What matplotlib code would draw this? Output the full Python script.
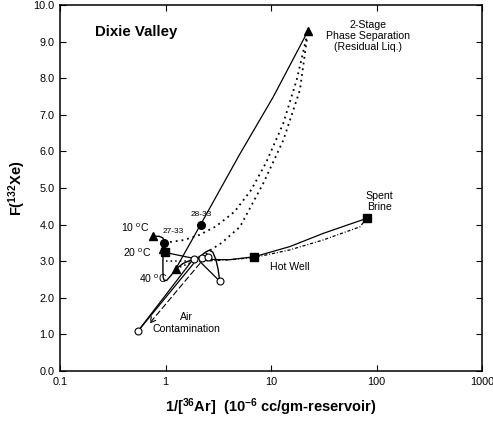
import numpy as np
import matplotlib.pyplot as plt

plt.rcParams['font.family'] = ['Liberation Sans', 'DejaVu Sans']
plt.rcParams['mathtext.fontset'] = 'custom'
plt.rcParams['mathtext.rm'] = 'Liberation Sans'
plt.rcParams['mathtext.it'] = 'Liberation Sans'
plt.rcParams['mathtext.bf'] = 'Liberation Sans:bold'

# ---- data ----
# solid mixing line: 40 C triangle -> 28-33 -> 2-stage separation
mix_x = [1.25, 2.15, 5.0, 10.5, 22.4]
mix_y = [2.79, 4.0, 5.9, 7.49, 9.29]

# dotted curve from 27-33 up to the separation point
dot1_x = [0.975, 1.5, 2.1, 3.0, 4.5, 6.5, 9.0, 13.0, 17.5, 22.4]
dot1_y = [3.5, 3.58, 3.72, 3.95, 4.35, 4.95, 5.7, 6.75, 7.95, 9.29]

# dotted curve from the open-circle cluster up to the separation point
dot2_x = [2.2, 2.65, 3.4, 5.08, 8.45, 13.1, 18.8, 22.4]
dot2_y = [3.08, 3.3, 3.5, 3.94, 5.13, 6.31, 7.68, 9.29]

# solid curve 20 C square -> hot well -> spent brine
brine_x = [0.99, 1.9, 2.5, 4.0, 6.9, 15.1, 31.2, 80.7]
brine_y = [3.24, 3.07, 3.05, 3.04, 3.12, 3.40, 3.76, 4.17]

# dash-dot curve hot well -> spent brine (lower branch)
brine2_x = [2.2, 4.0, 6.9, 15.1, 31.2, 69.7, 80.7]
brine2_y = [3.0, 3.04, 3.1, 3.31, 3.58, 3.94, 4.17]

# short dotted segments near the cluster
flat_x = [1.0, 1.85]
flat_y = [3.0, 3.0]
tri_link_x = [1.25, 1.6, 2.0]
tri_link_y = [2.79, 2.92, 3.02]

# wiggly temperature path 20 C -> 40 C -> cluster -> loop
loop_x = [0.95, 0.945, 0.945, 0.95, 0.975, 1.03, 1.12, 1.25, 1.45, 1.7, 1.9,
          2.15, 2.4, 2.6, 2.8, 3.0, 3.15, 3.22, 3.25]
loop_y = [3.25, 3.0, 2.75, 2.55, 2.47, 2.48, 2.6, 2.78, 2.93, 3.02, 3.06,
          3.14, 3.25, 3.3, 3.25, 3.05, 2.78, 2.58, 2.46]
zline_x = [3.25, 2.1]
zline_y = [2.46, 3.0]

# curved arrow 27-33 -> 10 C
hook_x = [0.975, 0.965, 0.94, 0.87, 0.78]
hook_y = [3.5, 3.58, 3.64, 3.68, 3.68]

# air contamination lines
air1_x = [0.545, 1.8]
air1_y = [1.08, 3.03]
air2_x = [0.545, 2.0]
air2_y = [1.08, 3.06]
air_arrow_from = (2.12, 2.94)
air_arrow_to = (0.70, 1.29)

# markers
tri_x = [0.766, 0.953, 1.25, 22.4]
tri_y = [3.69, 3.33, 2.79, 9.29]
dot_x = [0.975, 2.15]
dot_y = [3.5, 4.0]
sq_x = [0.99, 6.9, 80.7]
sq_y = [3.24, 3.12, 4.17]
open_x = [0.545, 3.25, 1.88, 2.2, 2.55]
open_y = [1.08, 2.46, 3.05, 3.1, 3.12]

x_ticks = [0.1, 1, 10, 100, 1000]
x_labels = ['0.1', '1', '10', '100', '1000']
y_ticks = np.arange(0, 11, 1)

fig = plt.figure(figsize=(4.93, 4.23), dpi=100)
ax = fig.add_axes([0.1217, 0.1229, 0.8561, 0.8653])

ax.plot(mix_x, mix_y, color='black', lw=0.9)
ax.plot(dot1_x, dot1_y, color='black', lw=1.3, ls=(0, (1, 2.2)))
ax.plot(dot2_x, dot2_y, color='black', lw=1.3, ls=(0, (1, 2.2)))
ax.plot(brine_x, brine_y, color='black', lw=0.9)
ax.plot(brine2_x, brine2_y, color='black', lw=0.9, ls=(0, (2.5, 1.5, 0.8, 1.5)))
ax.plot(flat_x, flat_y, color='black', lw=1.1, ls=(0, (1, 2)))
ax.plot(tri_link_x, tri_link_y, color='black', lw=1.1, ls=(0, (1, 2)))
ax.plot(loop_x, loop_y, color='black', lw=1.0)
ax.plot(zline_x, zline_y, color='black', lw=0.9)
ax.plot(hook_x, hook_y, color='black', lw=1.0)
ax.plot(air1_x, air1_y, color='black', lw=0.9)
ax.plot(air2_x, air2_y, color='black', lw=0.9)
ax.annotate('', xy=air_arrow_to, xytext=air_arrow_from,
            arrowprops=dict(arrowstyle='->', color='black', lw=0.8,
                            linestyle=(0, (5, 3)), shrinkA=0, shrinkB=0))

ax.plot(tri_x, tri_y, ls='none', marker='^', ms=6, color='black')
ax.plot(dot_x, dot_y, ls='none', marker='o', ms=5.5, color='black')
ax.plot(sq_x, sq_y, ls='none', marker='s', ms=5.5, color='black')
ax.plot(open_x, open_y, ls='none', marker='o', ms=5, mfc='white',
        mec='black', mew=0.8)

ax.set_xscale('log')
ax.set_xlim(0.1, 1000)
ax.set_ylim(0, 10)
ax.set_xticks(x_ticks)
ax.set_xticklabels(x_labels)
ax.minorticks_off()
ax.set_yticks(y_ticks)
ax.set_yticklabels([f'{v:.1f}' for v in y_ticks])
ax.tick_params(direction='in', length=4, width=0.8, labelsize=7.8,
               top=True, right=True, pad=4)
for s in ax.spines.values():
    s.set_linewidth(1.1)

ax.set_xlabel(r'1/[$^{\mathbf{36}}$Ar]  (10$^{\mathbf{-6}}$ cc/gm-reservoir)',
              fontsize=10.5, fontweight='bold', labelpad=7)
ax.set_ylabel(r'F($^{\mathbf{132}}$Xe)', fontsize=10.5, fontweight='bold', labelpad=4)

ax.text(0.215, 9.25, 'Dixie Valley', fontsize=10.8, fontweight='bold',
        ha='left', va='center')
ax.text(82.6, 9.15, '2-Stage\nPhase Separation\n(Residual Liq.)', fontsize=7.6,
        ha='center', va='center', linespacing=1.15)
ax.text(106, 4.64, 'Spent\nBrine', fontsize=7.6, ha='center', va='center',
        linespacing=1.15)
ax.text(15.1, 2.84, 'Hot Well', fontsize=7.6, ha='center', va='center')
ax.text(1.59, 1.31, 'Air\nContamination', fontsize=7.6, ha='center', va='center',
        linespacing=1.15)
ax.text(0.514, 3.91, '10 $^{o}$C', fontsize=7.6, ha='center', va='center')
ax.text(0.537, 3.22, '20 $^{o}$C', fontsize=7.6, ha='center', va='center')
ax.text(0.77, 2.51, '40 $^{o}$C', fontsize=7.6, ha='center', va='center')
ax.text(1.186, 3.81, '27-33', fontsize=6, ha='center', va='center')
ax.text(2.18, 4.28, '28-33', fontsize=6, ha='center', va='center')

fig.savefig('out.png', dpi=100)
